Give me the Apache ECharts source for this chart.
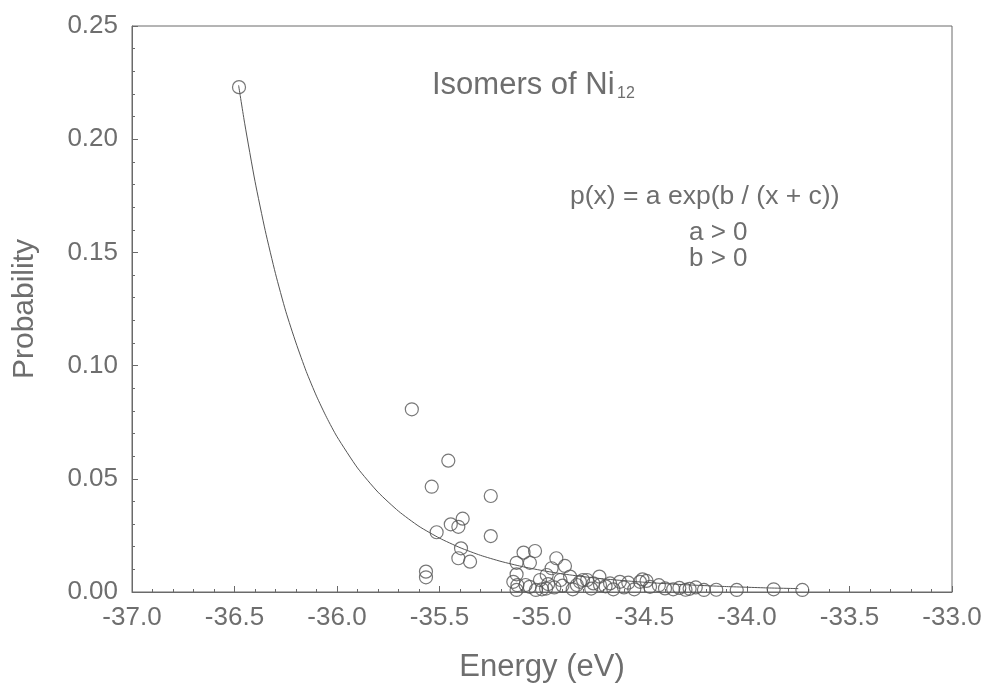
<!DOCTYPE html>
<html>
<head>
<meta charset="utf-8">
<script src="https://cdn.jsdelivr.net/npm/echarts@6/dist/echarts.min.js"></script>
<style>
html,body{margin:0;padding:0;background:#fff;}
#chart{width:986px;height:690px;}
</style>
</head>
<body>
<div id="chart"></div>
<script>
// ---- data ----
const xTickLabels = ['-37.0','-36.5','-36.0','-35.5','-35.0','-34.5','-34.0','-33.5','-33.0'];
const yTickLabels = ['0.00','0.05','0.10','0.15','0.20','0.25'];

const isomerEnergy = [
  -36.478,-35.635,-35.457,-35.538,-35.250,-35.387,-35.445,-35.408,-35.514,-35.250,
  -35.395,-35.408,-35.351,-35.566,-35.566,-35.090,-35.034,-35.124,-35.059,-35.124,
  -34.930,-34.888,-34.953,-35.124,-35.060,-35.010,-34.977,-34.910,-34.863,-34.830,
  -34.800,-34.750,-34.717,-34.652,-34.668,-34.579,-34.522,-34.490,-34.473,-34.400,
  -34.360,-35.140,-35.080,-34.815,-34.780,-34.720,-34.690,-34.510,-34.330,-34.300,
  -34.280,-34.210,-34.150,-33.870,-33.730,-34.970,-34.940,-34.600,-34.620,-34.850,
  -34.760,-35.030,-34.980,-34.550,-34.430,-34.250,-34.050,-35.120,-35.000,-34.900
];
const isomerProb = [
  0.2230,0.0807,0.0580,0.0465,0.0424,0.0324,0.0299,0.0288,0.0264,0.0247,
  0.0193,0.0149,0.0134,0.0090,0.0065,0.0174,0.0181,0.0129,0.0129,0.0078,
  0.0149,0.0115,0.0105,0.0009,0.0023,0.0053,0.0075,0.0053,0.0068,0.0031,
  0.0053,0.0038,0.0031,0.0012,0.0038,0.0041,0.0045,0.0049,0.0023,0.0016,
  0.0012,0.0045,0.0031,0.0045,0.0053,0.0068,0.0025,0.0056,0.0018,0.0010,
  0.0014,0.0009,0.0010,0.0012,0.0009,0.0035,0.0020,0.0020,0.0045,0.0012,
  0.0015,0.0009,0.0015,0.0012,0.0030,0.0020,0.0009,0.0030,0.0012,0.0028
];

const fitEnergy = [
  -36.48,-36.45,-36.40,-36.35,-36.30,-36.25,-36.20,-36.15,-36.10,-36.05,-36.00,
  -35.90,-35.80,-35.70,-35.60,-35.50,-35.40,-35.30,-35.20,-35.10,-35.00,
  -34.90,-34.80,-34.70,-34.60,-34.50,-34.40,-34.30,-34.20,-34.10,-34.00,
  -33.90,-33.80,-33.75
];
const fitProb = [
  0.2238,0.2068,0.1814,0.1596,0.1406,0.1240,0.1100,0.0974,0.0865,0.0770,0.0686,
  0.0548,0.0441,0.0357,0.0290,0.0238,0.0196,0.0162,0.0135,0.0113,0.0095,
  0.0080,0.0068,0.0058,0.0050,0.0043,0.0037,0.0032,0.0028,0.0024,0.0021,
  0.0018,0.0016,0.0015
];

const titleMain = 'Isomers of Ni';
const titleSub = '12';
const formulaLines = ['p(x) = a exp(b / (x + c))', 'a > 0', 'b > 0'];
const xName = 'Energy (eV)';
const yName = 'Probability';

// ---- build ----
const textColor = '#6e6e6e';
const lineColor = '#6a6a6a';
const font = '"Liberation Sans", Arial, sans-serif';

const scatterData = isomerEnergy.map((e, i) => [e, isomerProb[i]]);
const fitData = fitEnergy.map((e, i) => [e, fitProb[i]]);

const chart = echarts.init(document.getElementById('chart'), null, {renderer: 'canvas'});
chart.setOption({
  backgroundColor: '#ffffff',
  animation: false,
  grid: {left: 132, right: 34, top: 26, bottom: 98, show: true, borderColor: lineColor, borderWidth: 1, backgroundColor: 'transparent'},
  xAxis: {
    type: 'value', min: -37, max: -33, interval: 0.5,
    name: xName, nameLocation: 'middle', nameGap: 60,
    nameTextStyle: {fontFamily: font, fontSize: 31, color: textColor},
    axisLine: {show: true, onZero: false, lineStyle: {color: lineColor, width: 1}},
    axisTick: {show: true, inside: true, length: 6, lineStyle: {color: lineColor}},
    minorTick: {show: true, splitNumber: 5, length: 3, lineStyle: {color: lineColor}},
    splitLine: {show: false},
    axisLabel: {
      margin: 13, fontFamily: font, fontSize: 26, color: textColor,
      formatter: v => xTickLabels[Math.round((v + 37) / 0.5)]
    }
  },
  yAxis: {
    type: 'value', min: 0, max: 0.25, interval: 0.05,
    name: yName, nameLocation: 'middle', nameGap: 92,
    nameTextStyle: {fontFamily: font, fontSize: 30, color: textColor},
    axisLine: {show: true, lineStyle: {color: lineColor, width: 1}},
    axisTick: {show: true, inside: true, length: 6, lineStyle: {color: lineColor}},
    minorTick: {show: true, splitNumber: 5, length: 3, lineStyle: {color: lineColor}},
    splitLine: {show: false},
    axisLabel: {
      margin: 14, fontFamily: font, fontSize: 26, color: textColor,
      formatter: v => yTickLabels[Math.round(v / 0.05)]
    }
  },
  graphic: [
    {type: 'text', left: 432, top: 70, style: {text: titleMain, font: '31px ' + font, fill: textColor}},
    {type: 'text', left: 617, top: 86, style: {text: titleSub, font: '16px ' + font, fill: textColor}},
    {type: 'text', left: 570, top: 183, style: {text: formulaLines[0], font: '26.5px ' + font, fill: textColor}},
    {type: 'text', left: 689, top: 220, style: {text: formulaLines[1], font: '26px ' + font, fill: textColor}},
    {type: 'text', left: 689, top: 246, style: {text: formulaLines[2], font: '26px ' + font, fill: textColor}}
  ],
  series: [
    {
      type: 'line', data: fitData, showSymbol: false, smooth: 0.2,
      lineStyle: {color: '#555', width: 1}, z: 2
    },
    {
      type: 'scatter', data: scatterData, symbol: 'circle', symbolSize: 13,
      itemStyle: {color: 'rgba(255,255,255,0)', borderColor: '#555', borderWidth: 1.2}, z: 3
    }
  ]
});
</script>
</body>
</html>
